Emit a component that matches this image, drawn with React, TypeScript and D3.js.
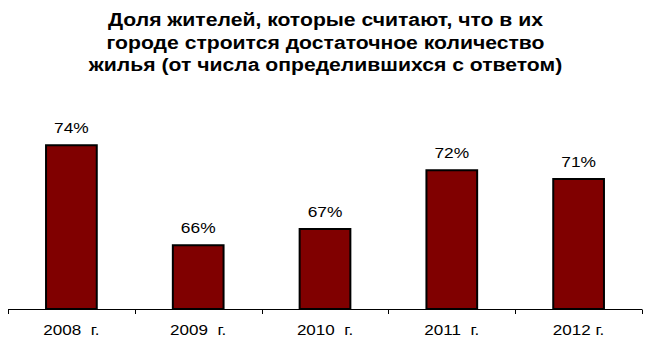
import React from "react";
import * as d3 from "d3";

const categories = ["2008  г.", "2009  г.", "2010  г.", "2011  г.", "2012 г."];
const values = [73.9, 65.9, 67.2, 71.9, 71.2];
const titleLines = [
  "Доля жителей, которые считают, что в их",
  "городе строится достаточное количество",
  "жилья (от числа определившихся с ответом)",
];

const W = 649;
const H = 356;

export default function App() {
  const x = d3.scaleBand<string>().domain(categories).range([8, 642]).paddingInner(0).paddingOuter(0);
  const y = d3.scaleLinear().domain([60.8, 80]).range([309, 69]);
  const barW = x.bandwidth() * 0.4;
  const font = "'Liberation Sans', Arial, sans-serif";
  const bounds = [...categories.map((c) => x(c)!), x.range()[1]];

  return (
    <svg width={W} height={H} style={{ position: "absolute", left: 0, top: 0, background: "#fff" }}>
      <g fontFamily={font} fontWeight="bold" fontSize={17.5} textAnchor="middle" fill="#000">
        {titleLines.map((t, i) => (
          <text key={i} transform={`translate(325.5,${26 + i * 22.5}) scale(1.21,1)`}>
            {t}
          </text>
        ))}
      </g>
      {categories.map((c, i) => {
        const cx = x(c)! + x.bandwidth() / 2;
        return (
          <g key={c}>
            <rect
              x={cx - barW / 2}
              y={y(values[i])}
              width={barW}
              height={y.range()[0] - y(values[i])}
              fill="#800000"
              stroke="#000"
              strokeWidth={2}
            />
            <text
              transform={`translate(${cx},${y(values[i]) - 12}) scale(1.12,1)`}
              textAnchor="middle"
              fontFamily={font}
              fontSize={15.5}
              fill="#000"
            >
              {Math.round(values[i]) + "%"}
            </text>
            <text
              transform={`translate(${cx},335) scale(1.1,1)`}
              textAnchor="middle"
              fontFamily={font}
              fontSize={15.5}
              fill="#000"
              style={{ whiteSpace: "pre" }}
            >
              {c}
            </text>
          </g>
        );
      })}
      <line x1={8} x2={642} y1={309.5} y2={309.5} stroke="#000" strokeWidth={1} />
      {bounds.map((b, i) => (
        <line key={i} x1={Math.round(b) + 0.5} x2={Math.round(b) + 0.5} y1={309.5} y2={314} stroke="#000" strokeWidth={1} />
      ))}
    </svg>
  );
}
